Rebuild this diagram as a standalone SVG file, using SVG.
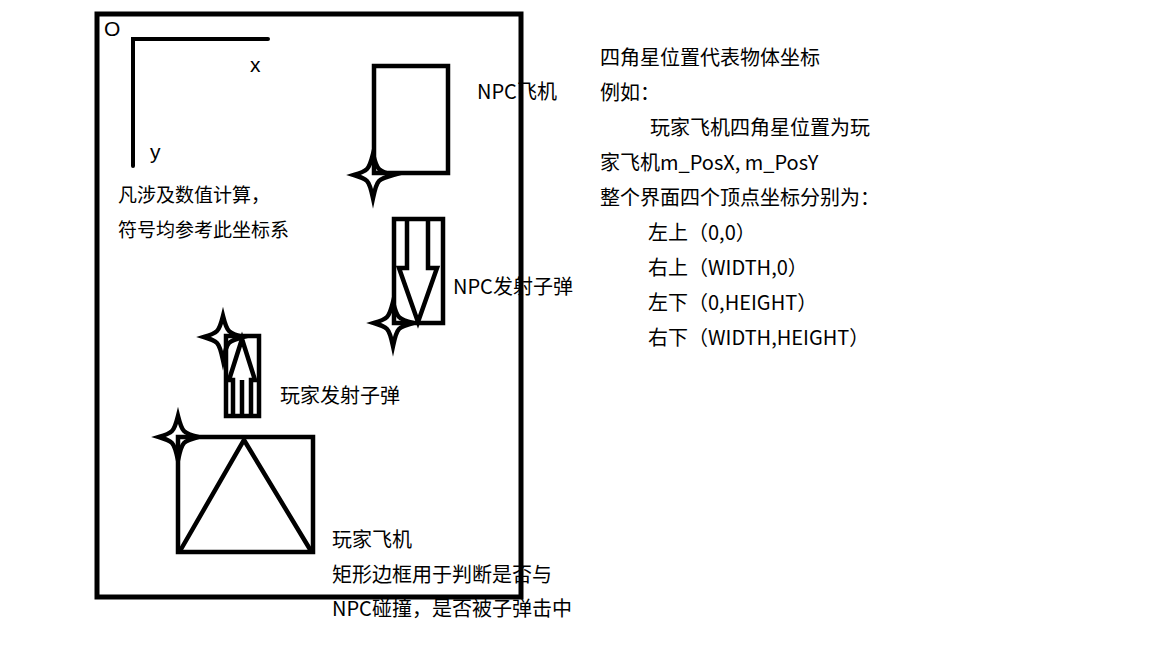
<svg xmlns="http://www.w3.org/2000/svg" width="1152" height="648" viewBox="0 0 1152 648">
<defs>
<style>
.t{font-family:"Noto Sans CJK SC","Noto Sans",sans-serif;font-size:20px;fill:#000}
.s{fill:none;stroke:#000;stroke-width:4.5;stroke-linejoin:miter}
.ax{fill:none;stroke:#000;stroke-width:4;stroke-linecap:round}
</style>
<path id="star" d="M0,-21 Q3,-9 6,-6 Q9,-3 20,0 Q9,3 6,6 Q3,9 0,23 Q-3,9 -6,6 Q-9,3 -19,0 Q-9,-3 -6,-6 Q-3,-9 0,-21 Z" fill="none" stroke="#000" stroke-width="4.5" stroke-linejoin="miter" stroke-miterlimit="6"/>
</defs>
<rect width="1152" height="648" fill="#fff"/>

<g id="axes">
<path class="ax" d="M133,166 V39 H268"/>
<text x="104" y="36" style="font-family:'Liberation Sans',sans-serif;font-size:21px">O</text>
<text x="250" y="72" style="font-family:'Liberation Sans',sans-serif;font-size:21px">x</text>
<text x="150" y="159" style="font-family:'Liberation Sans',sans-serif;font-size:21px">y</text>
</g>

<g id="note-left">
<text class="t" x="118" y="202" style="font-size:19px">凡涉及数值计算，</text>
<text class="t" x="118" y="237" style="font-size:19px">符号均参考此坐标系</text>
</g>

<g id="npc-plane">
<rect class="s" x="374" y="66" width="74" height="107"/>
<use href="#star" x="373" y="175"/>
<text class="t" x="477" y="99">NPC飞机</text>
</g>

<g id="npc-bullet">
<rect class="s" x="394" y="219" width="49" height="104"/>
<path class="s" d="M407,219 V268 H399 L418,322 L437,268 H428 V219"/>
<use href="#star" x="393" y="323"/>
<text class="t" x="453" y="294">NPC发射子弹</text>
</g>

<g id="player-bullet">
<rect class="s" x="226" y="336" width="33" height="80"/>
<path class="s" d="M233,416 V380 H229 L242,339 L255,380 H251 V416 M242,380 V416"/>
<use href="#star" x="223" y="337"/>
<text class="t" x="280" y="403">玩家发射子弹</text>
</g>

<g id="player-plane">
<rect class="s" x="178" y="437" width="135" height="115"/>
<path class="s" d="M180,551 L244,440 L311,551"/>
<use href="#star" x="178" y="437"/>
<text class="t" x="332" y="547">玩家飞机</text>
<text class="t" x="332" y="582">矩形边框用于判断是否与</text>
<text class="t" x="332" y="616">NPC碰撞，是否被子弹击中</text>
</g>

<g id="frame">
<rect x="97" y="14" width="424" height="583" fill="none" stroke="#000" stroke-width="5"/>
</g>

<g id="note-right">
<text class="t" x="600" y="65">四角星位置代表物体坐标</text>
<text class="t" x="600" y="100">例如：</text>
<text class="t" x="650" y="135">玩家飞机四角星位置为玩</text>
<text class="t" x="600" y="170">家飞机m_PosX, m_PosY</text>
<text class="t" x="600" y="205">整个界面四个顶点坐标分别为：</text>
<text class="t" x="648" y="240">左上（0,0）</text>
<text class="t" x="648" y="275">右上（WIDTH,0）</text>
<text class="t" x="648" y="310">左下（0,HEIGHT）</text>
<text class="t" x="648" y="345">右下（WIDTH,HEIGHT）</text>
</g>
</svg>
